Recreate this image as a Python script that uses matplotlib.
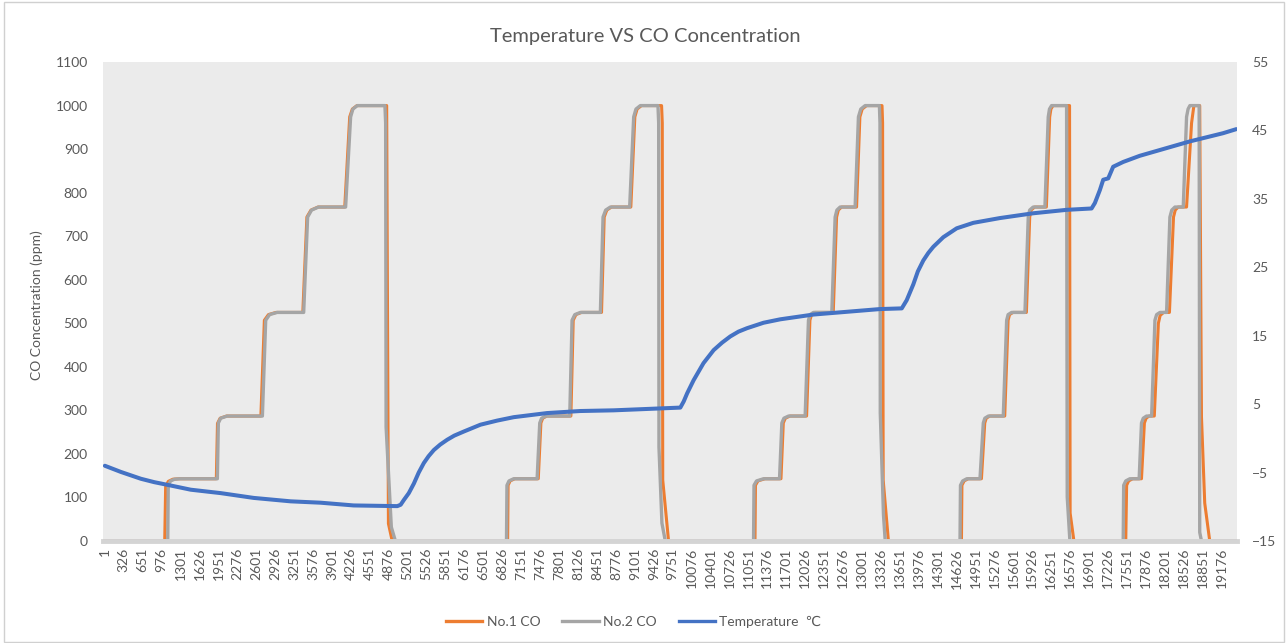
import matplotlib
matplotlib.use('Agg')
import matplotlib.pyplot as plt
from matplotlib.patches import Rectangle
from matplotlib.lines import Line2D
import numpy as np

plt.rcParams['font.family'] = ['Lato', 'DejaVu Sans']

# sample index / ppm vertices (No.1 sensor)
co1_idx = [1, 1029, 1045, 1090, 1170, 1280,
           1915, 1935, 1980, 2090,
           2680, 2740, 2810, 2940,
           3400, 3470, 3540, 3660,
           4120, 4205, 4250, 4330,
           4840, 4852, 4870, 4935,
           6917, 6925, 6960, 7040,
           7443, 7488, 7520, 7590,
           8003, 8043, 8090, 8186,
           8529, 8575, 8620, 8700,
           9032, 9101, 9140, 9215,
           9560, 9572, 9580, 9680,
           11164, 11172, 11215, 11335,
           11610, 11650, 11685, 11765,
           12050, 12107, 12135, 12193,
           12508, 12565, 12595, 12650,
           12908, 12965, 13005, 13080,
           13345, 13355, 13365, 13455,
           14709, 14717, 14755, 14825,
           15052, 15109, 15135, 15195,
           15452, 15510, 15535, 15595,
           15824, 15881, 15905, 15965,
           16167, 16224, 16245, 16281,
           16565, 16575, 16640,
           17530, 17545, 17580, 17650,
           17800, 17850, 17880, 17930,
           18020, 18090, 18120, 18180,
           18280, 18350, 18380, 18430,
           18574, 18660, 18700,
           18800, 18830, 18886, 18972,
           19430]
co1_ppm = [0, 0, 125, 137, 142, 143,
           143, 270, 282, 287,
           287, 507, 520, 525,
           525, 744, 760, 767,
           767, 974, 992, 1000,
           1000, 600, 40, 0,
           0, 128, 138, 143,
           143, 271, 282, 287,
           287, 507, 520, 525,
           525, 744, 760, 767,
           767, 974, 992, 1000,
           1000, 960, 140, 0,
           0, 128, 138, 143,
           143, 271, 282, 287,
           287, 507, 520, 525,
           525, 744, 760, 767,
           767, 974, 992, 1000,
           1000, 960, 140, 0,
           0, 128, 138, 143,
           143, 271, 282, 287,
           287, 507, 520, 525,
           525, 744, 760, 767,
           767, 974, 992, 1000,
           1000, 64, 0,
           0, 128, 138, 143,
           143, 271, 282, 287,
           287, 500, 518, 525,
           525, 744, 760, 767,
           767, 960, 1000,
           1000, 285, 87, 0,
           0]

# No.2 sensor
co2_idx = [1, 1081, 1090, 1130, 1200, 1300,
           1933, 1950, 1990, 2100,
           2706, 2763, 2830, 2960,
           3415, 3483, 3550, 3670,
           4135, 4221, 4260, 4336,
           4810, 4822, 4830, 4920, 4990,
           6897, 6905, 6940, 7020,
           7423, 7468, 7500, 7570,
           7983, 8023, 8070, 8166,
           8509, 8555, 8600, 8680,
           9012, 9081, 9120, 9195,
           9498, 9510, 9515, 9566, 9624,
           11139, 11147, 11190, 11310,
           11585, 11625, 11660, 11740,
           12025, 12082, 12110, 12168,
           12483, 12540, 12570, 12625,
           12883, 12940, 12980, 13055,
           13300, 13310, 13315, 13370, 13400,
           14684, 14692, 14730, 14800,
           15027, 15084, 15110, 15170,
           15427, 15485, 15510, 15570,
           15799, 15856, 15880, 15940,
           16142, 16199, 16220, 16256,
           16514, 16525, 16571,
           17486, 17494, 17530, 17600,
           17760, 17800, 17830, 17886,
           17974, 18031, 18060, 18117,
           18231, 18288, 18320, 18374,
           18517, 18574, 18600, 18631,
           18790, 18800, 18830,
           19430]
co2_ppm = [0, 0, 128, 138, 142, 143,
           143, 271, 282, 287,
           287, 507, 520, 525,
           525, 744, 760, 767,
           767, 974, 992, 1000,
           1000, 960, 262, 32, 0,
           0, 128, 138, 143,
           143, 271, 282, 287,
           287, 507, 520, 525,
           525, 744, 760, 767,
           767, 974, 992, 1000,
           1000, 960, 216, 41, 0,
           0, 128, 138, 143,
           143, 271, 282, 287,
           287, 507, 520, 525,
           525, 744, 760, 767,
           767, 974, 992, 1000,
           1000, 960, 294, 60, 0,
           0, 128, 138, 143,
           143, 271, 282, 287,
           287, 507, 520, 525,
           525, 744, 760, 767,
           767, 974, 992, 1000,
           1000, 101, 0,
           0, 128, 138, 143,
           143, 271, 282, 287,
           287, 507, 520, 525,
           525, 744, 760, 767,
           767, 974, 992, 1000,
           1000, 20, 0,
           0]

# temperature in degC
temp_idx = [1, 275, 619, 850, 1082, 1476, 1991, 2557, 3191, 3706, 4272, 5022,
            5080, 5135, 5220, 5307, 5390, 5478, 5560, 5650, 5760, 5879, 6000,
            6164, 6450, 6737, 7022, 7594, 8166,
            8737, 9310, 9882, 9940, 10000, 10110, 10280, 10454, 10600, 10740,
            10880, 11026, 11311, 11597, 12168,
            12740, 13311, 13684, 13769, 13882, 13960, 14054, 14140, 14226,
            14397, 14627, 14912, 15370, 15942, 16514, 16943, 17000, 17086,
            17143, 17229, 17314, 17486, 17771, 18057, 18343, 18629, 18915,
            19200, 19430]
temp_c = [-4.0, -4.9, -5.9, -6.4, -6.8, -7.5, -8.0, -8.7, -9.2, -9.4, -9.8, -9.9,
          -9.7, -9.0, -8.0, -6.6, -5.0, -3.6, -2.6, -1.7, -0.9, -0.2, 0.4,
          1.0, 2.0, 2.6, 3.1, 3.7, 4.0,
          4.1, 4.3, 4.5, 5.4, 6.6, 8.5, 11.0, 12.9, 14.0, 14.9,
          15.6, 16.1, 16.9, 17.4, 18.1,
          18.5, 18.9, 19.0, 20.2, 22.5, 24.4, 26.0, 27.1, 28.0,
          29.4, 30.7, 31.5, 32.2, 32.9, 33.4, 33.6, 34.4, 36.3,
          37.8, 38.0, 39.7, 40.4, 41.3, 42.0, 42.7, 43.4, 44.0,
          44.6, 45.2]

tick_pos = np.arange(1, 19177, 325)
tick_lbl = [str(t) for t in tick_pos]

orange = '#ED7D31'
grey = '#A5A5A5'
blue = '#4472C4'
txt = '#595959'

fig = plt.figure(figsize=(12.88, 6.43), dpi=100)
ax = fig.add_axes([0.0800, 0.1586, 0.8804, 0.7449])
ax.set_facecolor('#ebebeb')

ax.plot(co1_idx, co1_ppm, color=orange, lw=2.2, solid_joinstyle='round')
ax.plot(co2_idx, co2_ppm, color=grey, lw=2.4, solid_joinstyle='round')
ax.set_ylim(0, 1100)
ax.set_yticks(range(0, 1101, 100))
ax.set_xlim(-30, 19440)
ax.set_xticks(tick_pos)
ax.set_xticklabels(tick_lbl, rotation=90)
ax.tick_params(length=0, labelsize=10, colors=txt)
ax.tick_params(axis='y', pad=11)
ax.tick_params(axis='x', pad=5)
for s in ['top', 'left', 'right']:
    ax.spines[s].set_visible(False)
ax.spines['bottom'].set_color('#d4d4d4')
ax.spines['bottom'].set_linewidth(3.5)

ax2 = ax.twinx()
ax2.plot(temp_idx, temp_c, color=blue, lw=2.9, solid_joinstyle='round',
         solid_capstyle='round')
ax2.set_ylim(-15, 55)
ax2.set_yticks(range(-15, 56, 10))
ax2.tick_params(length=0, labelsize=10, colors=txt, pad=11)
for s in ax2.spines.values():
    s.set_visible(False)

fig.text(0.5008, 0.9425, 'Temperature VS CO Concentration', ha='center', va='center',
         fontsize=14.5, color=txt)
fig.text(0.0287, 0.5257, 'CO Concentration (ppm)', rotation=90, ha='center',
         va='center', fontsize=10, color=txt)

handles = [Line2D([], [], color=orange, lw=2.4),
           Line2D([], [], color=grey, lw=2.4),
           Line2D([], [], color=blue, lw=2.4)]
fig.legend(handles, ['No.1 CO', 'No.2 CO', 'Temperature  ℃'], loc='center',
           bbox_to_anchor=(0.492, 0.0327), ncol=3, frameon=False, fontsize=10,
           handlelength=2.6, handletextpad=0.3, columnspacing=1.6,
           labelcolor=txt)

fig.patches.append(Rectangle((0.003, 0.002), 0.994, 0.995, transform=fig.transFigure,
                             fill=False, edgecolor='#d0d0d0', lw=1))

fig.savefig('out.png', dpi=100)
